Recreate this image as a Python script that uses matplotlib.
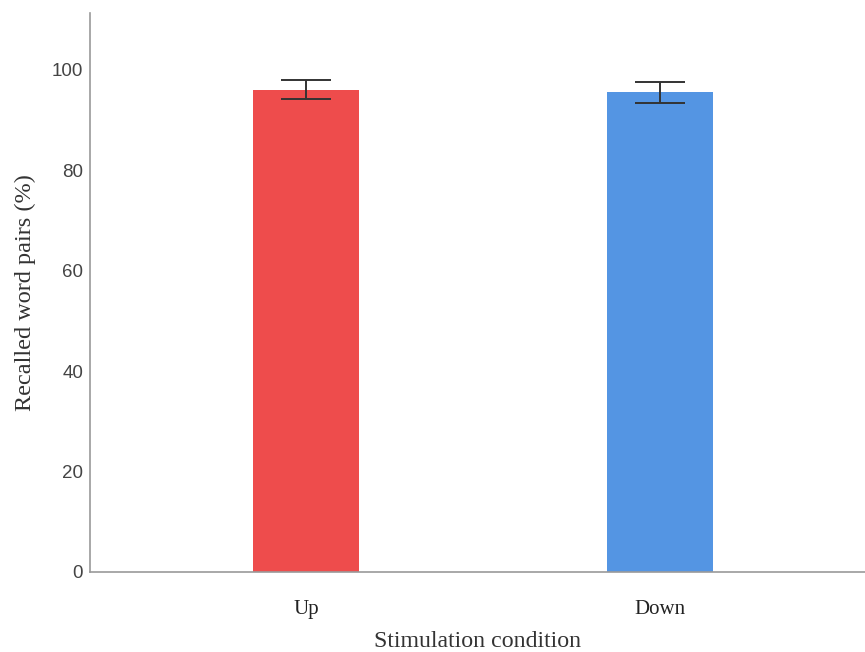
import matplotlib
matplotlib.use("Agg")
import matplotlib.pyplot as plt
import numpy as np

conditions = ["Up", "Down"]
recalled = [96.0, 95.5]
err_upper = [98.0, 97.5]
err_lower = [94.1, 93.4]
bar_colors = ["#EE4C4C", "#5495E3"]
yticks = [0, 20, 40, 60, 80, 100]

plt.rcParams["font.family"] = ["Liberation Serif", "DejaVu Serif"]

fig = plt.figure(figsize=(8.65, 6.52), dpi=100)
ax = fig.add_axes([0.104, 0.1227, 0.896, 0.858])

x = np.arange(len(conditions))
ax.bar(x, recalled, width=0.30, color=bar_colors, zorder=2)
yerr = np.array([np.array(recalled) - np.array(err_lower),
                 np.array(err_upper) - np.array(recalled)])
ax.errorbar(x, recalled, yerr=yerr, fmt="none", ecolor="#333333",
            elinewidth=1.4, capsize=18, capthick=1.4, zorder=3)

ax.set_xlim(-0.61, 1.58)
ax.set_ylim(0, 111.4)
ax.set_yticks(yticks)
ax.set_xticks(x)
ax.set_xticklabels(conditions, fontsize=15, color="#222222")
ax.tick_params(axis="both", length=0)
ax.tick_params(axis="y", pad=5)
ax.tick_params(axis="x", pad=20)
for lbl in ax.get_yticklabels():
    lbl.set_family(["Liberation Sans", "DejaVu Sans"])
    lbl.set_fontsize(13.5)
    lbl.set_color("#444444")

for side in ["top", "right"]:
    ax.spines[side].set_visible(False)
for side in ["left", "bottom"]:
    ax.spines[side].set_color("#9a9a9a")
    ax.spines[side].set_linewidth(1.2)

ax.set_ylabel("Recalled word pairs (%)", fontsize=17.5, color="#333333", labelpad=11)
ax.set_xlabel("Stimulation condition", fontsize=17.2, color="#333333", labelpad=9)

fig.savefig("out.png", dpi=100)
